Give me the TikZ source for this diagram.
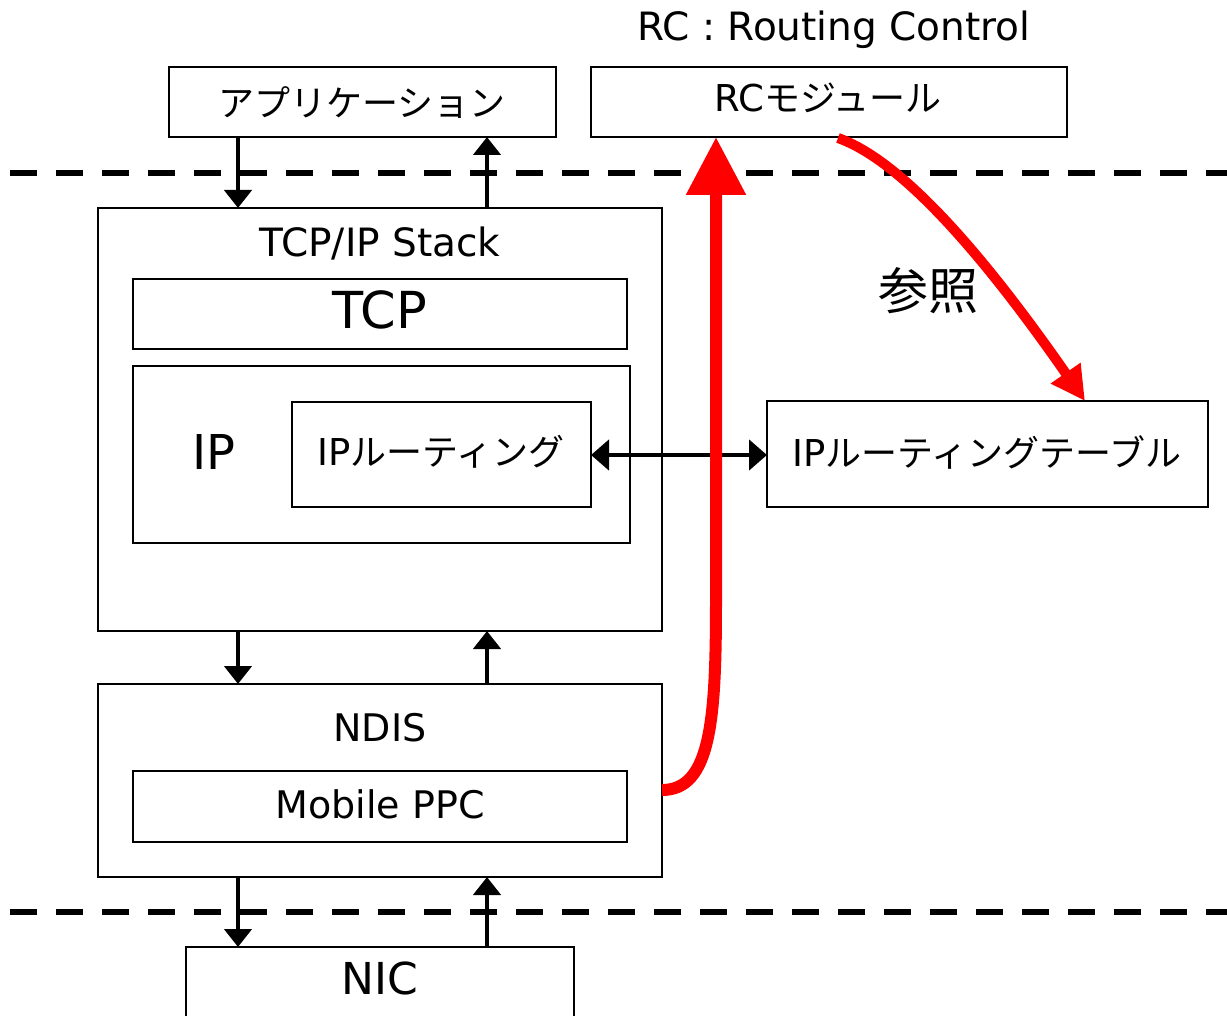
\documentclass[tikz,border=0pt]{standalone}
\usepackage{fontspec}
\setmainfont{Noto Sans CJK JP}
\newfontfamily\latn{DejaVu Sans}
\usetikzlibrary{arrows.meta}
\tikzset{
  blk/.style={draw=black, line width=2pt, fill=white, inner sep=0pt},
  lbl/.style={inner sep=0pt, anchor=center},
  flow/.style={line width=4.5pt, -{Triangle[width=27pt,length=18pt]}},
  both/.style={line width=4.5pt, {Triangle[width=30pt,length=18pt]}-{Triangle[width=30pt,length=18pt]}},
  layer/.style={line width=6pt, dash pattern=on 27pt off 19pt},
  hot/.style={draw=red, line width=10pt},
}
\begin{document}
\begin{tikzpicture}[x=1pt, y=-1pt]
\useasboundingbox (0,0) rectangle (1227,1016);
\clip (0,0) rectangle (1227,1016);

% layer boundaries
\draw[layer] (10,173) -- (1240,173);
\draw[layer] (10,912) -- (1240,912);

% user space
\draw[blk] (169,67) rectangle (556,137);
\node[lbl, font=\fontsize{36}{40}\selectfont] (app) at (362,103) {アプリケーション};
\coordinate (appA) at (238,137);
\coordinate (appB) at (487,137);

\node[lbl, font=\latn\fontsize{39}{42}\selectfont] (rctitle) at (834,30) {RC : Routing Control};
\draw[blk] (591,67) rectangle (1067,137);
\node[lbl, font=\fontsize{36}{40}\selectfont] (rc) at (828,98) {{\latn\fontsize{37}{40}\selectfont RC}モジュール};
\coordinate (rcIn) at (716,137);
\coordinate (rcOut) at (838,138);

% TCP/IP stack
\draw[blk] (98,208) rectangle (662,631);
\node[lbl, font=\latn\fontsize{39}{42}\selectfont] (stack) at (380,243) {TCP/IP Stack};
\coordinate (stkTopA) at (238,208);
\coordinate (stkTopB) at (487,208);
\coordinate (stkBotA) at (238,631);
\coordinate (stkBotB) at (487,631);

\draw[blk] (133,279) rectangle (627,349);
\node[lbl, font=\latn\fontsize{51}{56}\selectfont] (tcp) at (380,310) {TCP};

\draw[blk] (133,366) rectangle (630,543);
\node[lbl, font=\latn\fontsize{48}{54}\selectfont] (ip) at (214,452) {IP};

\draw[blk] (292,402) rectangle (591,507);
\node[lbl, font=\fontsize{36}{40}\selectfont] (iprt) at (441,452) {{\latn\fontsize{37}{40}\selectfont IP}ルーティング};
\coordinate (iprtR) at (591,455);

\draw[blk] (767,401) rectangle (1208,507);
\node[lbl, font=\fontsize{36}{40}\selectfont] (iptbl) at (987,452) {{\latn\fontsize{37}{40}\selectfont IP}ルーティングテーブル};
\coordinate (iptblL) at (767,455);
\coordinate (iptblTop) at (1085,401);

% NDIS
\draw[blk] (98,684) rectangle (662,877);
\node[lbl, font=\latn\fontsize{38}{42}\selectfont] (ndis) at (380,728) {NDIS};
\coordinate (ndisTopA) at (238,684);
\coordinate (ndisTopB) at (487,684);
\coordinate (ndisBotA) at (238,877);
\coordinate (ndisBotB) at (487,877);
\coordinate (ndisR) at (662,790);

\draw[blk] (133,771) rectangle (627,842);
\node[lbl, font=\latn\fontsize{38}{42}\selectfont] (ppc) at (380,804) {Mobile PPC};

% NIC
\draw[blk] (186,947) rectangle (574,1030);
\node[lbl, font=\latn\fontsize{44}{48}\selectfont] (nic) at (380,978) {NIC};
\coordinate (nicA) at (238,947);
\coordinate (nicB) at (487,947);

% data flow between layers
\draw[flow] (appA) -- (stkTopA);
\draw[flow] (stkTopB) -- (appB);
\draw[flow] (stkBotA) -- (ndisTopA);
\draw[flow] (ndisTopB) -- (stkBotB);
\draw[flow] (ndisBotA) -- (nicA);
\draw[flow] (nicB) -- (ndisBotB);

\draw[both] (iprtR) -- (iptblL);

% routing control paths
\draw[hot, line width=12pt, -{Triangle[width=57pt,length=58pt]}]
  (ndisR) .. controls (711,790) and (716,720) .. (716,600) -- (rcIn);
\draw[hot, -{Triangle[width=34pt,length=34pt]}]
  (rcOut) .. controls (900,160) and (980,250) .. (iptblTop);
\node[lbl, font=\fontsize{50}{54}\selectfont] (ref) at (928,291) {参照};
\end{tikzpicture}
\end{document}
